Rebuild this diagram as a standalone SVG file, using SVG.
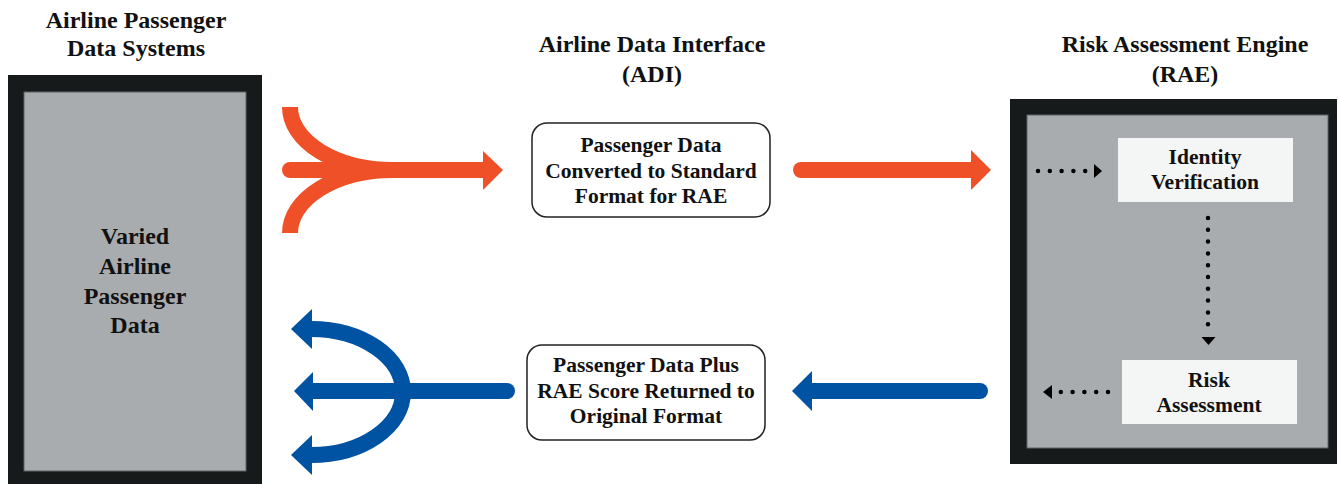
<svg xmlns="http://www.w3.org/2000/svg" width="1339" height="484" viewBox="0 0 1339 484" font-family="Liberation Serif, DejaVu Serif, serif" font-weight="bold">
<style>
text{fill:#111;text-anchor:middle}
.t{font-size:24px}
.b{font-size:21.5px}
.frame{fill:#161a1b}
.inner{fill:#a9acaf;stroke:#5f6366;stroke-width:1}
.wbox{fill:#f4f5f5}
.rbox{fill:#fff;stroke:#222;stroke-width:1.5}
.or{fill:none;stroke:#f05028;stroke-width:16}
.bl{fill:none;stroke:#0052a2;stroke-width:16}
.dot{fill:none;stroke:#000;stroke-width:4.5;stroke-linecap:round;stroke-dasharray:0 11.8}
</style>
<rect width="1339" height="484" fill="#fff"/>
<g id="airline-systems">
<text class="t" x="136" y="28">Airline Passenger</text>
<text class="t" x="136" y="56">Data Systems</text>
<rect class="frame" x="8" y="75" width="254" height="409"/>
<rect class="inner" x="24" y="92" width="222" height="379"/>
<text class="t" x="135" y="244">Varied</text>
<text class="t" x="135" y="274">Airline</text>
<text class="t" x="135" y="304">Passenger</text>
<text class="t" x="135" y="333">Data</text>
</g>
<g id="adi-title">
<text class="t" x="652" y="52">Airline Data Interface</text>
<text class="t" x="652" y="82">(ADI)</text>
</g>
<g id="adi-convert">
<rect class="rbox" x="532" y="123" width="238" height="94" rx="15"/>
<text class="b" x="651" y="152">Passenger Data</text>
<text class="b" x="651" y="178">Converted to Standard</text>
<text class="b" x="651" y="203">Format for RAE</text>
</g>
<g id="adi-return">
<rect class="rbox" x="527" y="345" width="238" height="95" rx="15"/>
<text class="b" x="646" y="372">Passenger Data Plus</text>
<text class="b" x="646" y="398">RAE Score Returned to</text>
<text class="b" x="646" y="423">Original Format</text>
</g>
<g id="rae">
<text class="t" x="1185" y="52">Risk Assessment Engine</text>
<text class="t" x="1185" y="82">(RAE)</text>
<rect class="frame" x="1010" y="99" width="327" height="365"/>
<rect class="inner" x="1027" y="115" width="301" height="333"/>
</g>
<g id="identity-verification">
<rect class="wbox" x="1118" y="138" width="175" height="64"/>
<text class="b" x="1205" y="164">Identity</text>
<text class="b" x="1205" y="189">Verification</text>
</g>
<g id="risk-assessment">
<rect class="wbox" x="1122" y="360" width="175" height="64"/>
<text class="b" x="1209" y="387">Risk</text>
<text class="b" x="1209" y="412">Assessment</text>
</g>
<g id="connectors">
<path class="or" d="M290,107 A103,63 0 0 0 393,170"/>
<path class="or" d="M290,233 A103,63 0 0 1 393,170"/>
<path class="or" d="M290,170 L485,170" stroke-linecap="round"/>
<polygon points="483,151 503,170 483,190" fill="#f05028"/>
<path class="or" d="M801,170 L973,170" stroke-linecap="round"/>
<polygon points="971,150 991,170 971,190" fill="#f05028"/>
<path class="bl" d="M980,391 L810,391" stroke-linecap="round"/>
<polygon points="812,371 792,391 812,411" fill="#0052a2"/>
<path class="bl" d="M507,391 L311,391" stroke-linecap="round"/>
<polygon points="313,372 294,391 313,411" fill="#0052a2"/>
<path class="bl" d="M311,329 A92,63 0 0 1 311,455"/>
<polygon points="312,309 291,329 312,349" fill="#0052a2"/>
<polygon points="312,435 291,455 312,475" fill="#0052a2"/>
<path class="dot" d="M1038,171 L1090,171"/>
<polygon points="1094,164 1102,171 1094,178" fill="#000"/>
<path class="dot" d="M1208,218 L1208,335"/>
<polygon points="1201.5,337 1215.5,337 1208.5,345" fill="#000"/>
<path class="dot" d="M1108,392 L1058,392"/>
<polygon points="1052,385 1043,392 1052,399" fill="#000"/>
</g>
</svg>
